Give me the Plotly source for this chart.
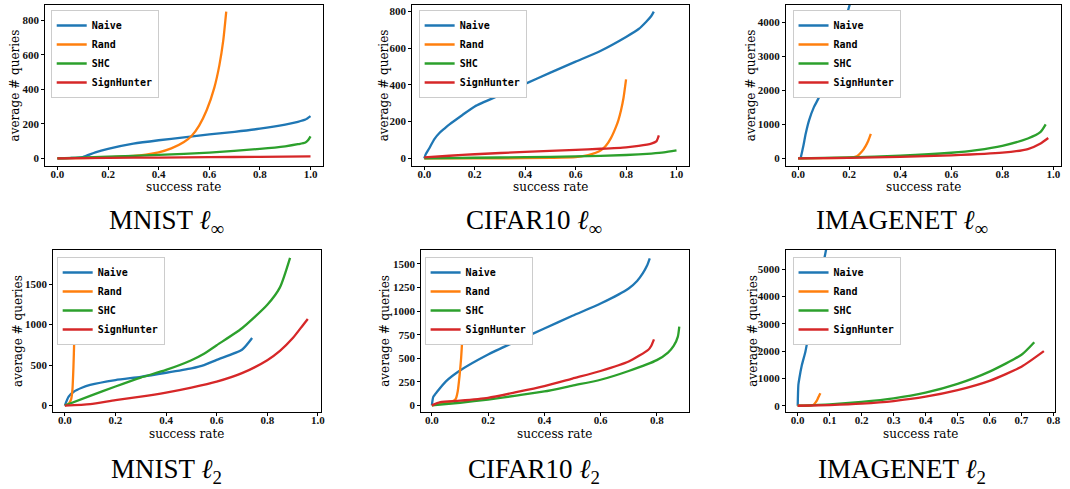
import plotly.graph_objects as go

# ---------------- data ----------------
METHODS = ["Naive", "Rand", "SHC", "SignHunter"]
COLORS = ["#1f77b4", "#ff7f0e", "#2ca02c", "#d62728"]
CAPTIONS = ["MNIST <i>ℓ</i><sub>∞</sub>", "CIFAR10 <i>ℓ</i><sub>∞</sub>", "IMAGENET <i>ℓ</i><sub>∞</sub>",
            "MNIST <i>ℓ</i><sub>2</sub>", "CIFAR10 <i>ℓ</i><sub>2</sub>", "IMAGENET <i>ℓ</i><sub>2</sub>"]
X_TITLE = "success rate"
Y_TITLE = "average # queries"

# MNIST l_inf
mnist_linf_naive_x = [0, 0.05, 0.1, 0.15, 0.2, 0.3, 0.4, 0.5, 0.6, 0.7, 0.8, 0.9, 0.95, 0.98, 1.0]
mnist_linf_naive_y = [0, 2, 8, 35, 55, 85, 105, 122, 139, 154, 172, 196, 212, 225, 245]
mnist_linf_rand_x = [0, 0.1, 0.2, 0.3, 0.35, 0.4, 0.45, 0.5, 0.53, 0.56, 0.59, 0.62, 0.64, 0.655, 0.667]
mnist_linf_rand_y = [0, 2, 6, 14, 22, 35, 58, 95, 130, 190, 280, 410, 540, 680, 850]
mnist_linf_shc_x = [0, 0.2, 0.4, 0.6, 0.8, 0.9, 0.95, 0.98, 0.99, 1.0]
mnist_linf_shc_y = [0, 10, 20, 34, 55, 70, 82, 92, 105, 128]
mnist_linf_sh_x = [0, 0.2, 0.4, 0.6, 0.8, 1.0]
mnist_linf_sh_y = [0, 3, 5, 7, 9, 12]

# CIFAR10 l_inf
cifar_linf_naive_x = [0, 0.005, 0.02, 0.04, 0.06, 0.08, 0.1, 0.15, 0.2, 0.3, 0.4, 0.5, 0.6, 0.7, 0.8, 0.85, 0.88, 0.9, 0.91]
cifar_linf_naive_y = [0, 20, 55, 105, 138, 162, 185, 235, 283, 345, 406, 467, 527, 587, 662, 705, 745, 776, 800]
cifar_linf_rand_x = [0, 0.3, 0.5, 0.6, 0.65, 0.68, 0.7, 0.72, 0.74, 0.76, 0.77, 0.78, 0.79, 0.8]
cifar_linf_rand_y = [0, 0, 2, 6, 18, 30, 43, 68, 110, 171, 210, 262, 330, 430]
cifar_linf_shc_x = [0, 0.2, 0.4, 0.6, 0.8, 0.9, 0.95, 1.0]
cifar_linf_shc_y = [0, 3, 6, 10, 18, 26, 32, 43]
cifar_linf_sh_x = [0, 0.1, 0.2, 0.4, 0.6, 0.7, 0.8, 0.85, 0.9, 0.92, 0.93]
cifar_linf_sh_y = [5, 14, 22, 35, 46, 52, 60, 68, 80, 92, 125]

# IMAGENET l_inf
imagenet_linf_naive_x = [0.01, 0.02, 0.03, 0.043, 0.062, 0.082, 0.1, 0.128, 0.16, 0.193, 0.205]
imagenet_linf_naive_y = [0, 340, 730, 1120, 1510, 1800, 2240, 2780, 3510, 4290, 4600]
imagenet_linf_rand_x = [0, 0.1, 0.2, 0.23, 0.25, 0.265, 0.275, 0.285]
imagenet_linf_rand_y = [0, 5, 20, 60, 200, 370, 520, 720]
imagenet_linf_shc_x = [0, 0.2, 0.4, 0.6, 0.7, 0.8, 0.9, 0.95, 0.97]
imagenet_linf_shc_y = [0, 30, 78, 166, 244, 370, 585, 780, 1000]
imagenet_linf_sh_x = [0, 0.2, 0.4, 0.6, 0.8, 0.9, 0.95, 0.98]
imagenet_linf_sh_y = [0, 15, 45, 88, 166, 275, 440, 600]

# MNIST l_2
mnist_l2_naive_x = [0, 0.015, 0.035, 0.067, 0.1, 0.2, 0.3, 0.4, 0.5, 0.55, 0.6, 0.7, 0.74]
mnist_l2_naive_y = [0, 110, 170, 220, 255, 315, 355, 405, 460, 500, 565, 690, 835]
mnist_l2_rand_x = [0, 0.015, 0.025, 0.03, 0.034, 0.037, 0.039]
mnist_l2_rand_y = [0, 20, 80, 200, 480, 800, 1160]
mnist_l2_shc_x = [0, 0.1, 0.2, 0.3, 0.4, 0.5, 0.55, 0.6, 0.7, 0.8, 0.85, 0.89]
mnist_l2_shc_y = [0, 120, 235, 345, 440, 560, 640, 745, 955, 1245, 1460, 1825]
mnist_l2_sh_x = [0, 0.1, 0.2, 0.3, 0.4, 0.5, 0.6, 0.7, 0.8, 0.85, 0.9, 0.94, 0.96]
mnist_l2_sh_y = [0, 18, 68, 110, 160, 222, 295, 400, 560, 675, 830, 990, 1070]

# CIFAR10 l_2
cifar_l2_naive_x = [0, 0.005, 0.02, 0.05, 0.1, 0.2, 0.3, 0.4, 0.5, 0.6, 0.7, 0.73, 0.75, 0.765, 0.775]
cifar_l2_naive_y = [0, 90, 150, 255, 370, 540, 680, 815, 950, 1080, 1240, 1320, 1400, 1480, 1560]
cifar_l2_rand_x = [0, 0.05, 0.075, 0.085, 0.092, 0.098, 0.104, 0.108, 0.113]
cifar_l2_rand_y = [0, 30, 45, 70, 150, 300, 500, 700, 1030]
cifar_l2_shc_x = [0, 0.1, 0.2, 0.3, 0.4, 0.5, 0.6, 0.7, 0.8, 0.84, 0.86, 0.875, 0.88]
cifar_l2_shc_y = [0, 28, 62, 104, 148, 210, 272, 365, 480, 560, 630, 730, 835]
cifar_l2_sh_x = [0, 0.03, 0.1, 0.2, 0.3, 0.4, 0.5, 0.6, 0.7, 0.77, 0.78, 0.79]
cifar_l2_sh_y = [0, 35, 50, 80, 140, 205, 285, 365, 465, 590, 630, 700]

# IMAGENET l_2
imagenet_l2_naive_x = [0, 0.002, 0.005, 0.013, 0.024, 0.034, 0.045, 0.055, 0.07, 0.084, 0.09]
imagenet_l2_naive_y = [0, 760, 1000, 1490, 1980, 2590, 3200, 3810, 4670, 5440, 5800]
imagenet_l2_rand_x = [0, 0.04, 0.05, 0.056, 0.062, 0.067, 0.071]
imagenet_l2_rand_y = [0, 5, 40, 120, 240, 370, 460]
imagenet_l2_shc_x = [0, 0.1, 0.2, 0.3, 0.4, 0.5, 0.6, 0.7, 0.74]
imagenet_l2_shc_y = [0, 50, 140, 270, 480, 800, 1250, 1870, 2330]
imagenet_l2_sh_x = [0, 0.1, 0.2, 0.3, 0.4, 0.5, 0.6, 0.7, 0.77]
imagenet_l2_sh_y = [0, 25, 75, 170, 330, 570, 910, 1430, 2000]

# tick values
yticks_mnist_linf = [0, 200, 400, 600, 800]
yticks_cifar_linf = [0, 200, 400, 600, 800]
yticks_imagenet_linf = [0, 1000, 2000, 3000, 4000]
yticks_mnist_l2 = [0, 500, 1000, 1500]
yticks_cifar_l2 = [0, 250, 500, 750, 1000, 1250, 1500]
yticks_imagenet_l2 = [0, 1000, 2000, 3000, 4000, 5000]
xticks_full = [0.0, 0.2, 0.4, 0.6, 0.8, 1.0]
xticks_cifar_l2 = [0.0, 0.2, 0.4, 0.6, 0.8]
xticks_imagenet_l2 = [0.0, 0.1, 0.2, 0.3, 0.4, 0.5, 0.6, 0.7, 0.8]

panels = [
    [(mnist_linf_naive_x, mnist_linf_naive_y), (mnist_linf_rand_x, mnist_linf_rand_y),
     (mnist_linf_shc_x, mnist_linf_shc_y), (mnist_linf_sh_x, mnist_linf_sh_y)],
    [(cifar_linf_naive_x, cifar_linf_naive_y), (cifar_linf_rand_x, cifar_linf_rand_y),
     (cifar_linf_shc_x, cifar_linf_shc_y), (cifar_linf_sh_x, cifar_linf_sh_y)],
    [(imagenet_linf_naive_x, imagenet_linf_naive_y), (imagenet_linf_rand_x, imagenet_linf_rand_y),
     (imagenet_linf_shc_x, imagenet_linf_shc_y), (imagenet_linf_sh_x, imagenet_linf_sh_y)],
    [(mnist_l2_naive_x, mnist_l2_naive_y), (mnist_l2_rand_x, mnist_l2_rand_y),
     (mnist_l2_shc_x, mnist_l2_shc_y), (mnist_l2_sh_x, mnist_l2_sh_y)],
    [(cifar_l2_naive_x, cifar_l2_naive_y), (cifar_l2_rand_x, cifar_l2_rand_y),
     (cifar_l2_shc_x, cifar_l2_shc_y), (cifar_l2_sh_x, cifar_l2_sh_y)],
    [(imagenet_l2_naive_x, imagenet_l2_naive_y), (imagenet_l2_rand_x, imagenet_l2_rand_y),
     (imagenet_l2_shc_x, imagenet_l2_shc_y), (imagenet_l2_sh_x, imagenet_l2_sh_y)],
]
yticks = [yticks_mnist_linf, yticks_cifar_linf, yticks_imagenet_linf,
          yticks_mnist_l2, yticks_cifar_l2, yticks_imagenet_l2]
xticks = [xticks_full, xticks_full, xticks_full, xticks_full, xticks_cifar_l2, xticks_imagenet_l2]

# ---------------- layout geometry ----------------
W, H = 1070, 489
# plot-area boxes in pixels (left, right, top, bottom)
boxes = [(45, 325, 5, 166), (414, 693, 5, 166), (790, 1067, 5, 166),
         (53, 323, 250, 412), (423, 693, 250, 412), (790, 1061, 250, 412)]
xranges = [[-0.05, 1.05], [-0.05, 1.05], [-0.049, 1.03],
           [-0.048, 1.013], [-0.04, 0.915], [-0.038, 0.805]]
yranges = [[-44, 888], [-42, 836], [-225, 4520],
           [-80, 1922], [-70, 1648], [-230, 5710]]
legend_pos = [(51, 10), (421, 10), (797, 10), (57, 257), (427, 257), (797, 257)]
caption_pos = [(167, 222), (537, 222), (907, 222), (167, 471), (537, 471), (907, 471)]
ytitle_x = [15, 386, 755, 18, 387, 757]
xtitle_y = [187, 187, 187, 434, 434, 434]

fig = go.Figure()
layout = dict(width=W, height=H, autosize=False,
              margin=dict(l=0, r=0, t=0, b=0),
              paper_bgcolor="white", plot_bgcolor="white",
              annotations=[])
title_font = dict(family="DejaVu Serif", size=12, color="black")

for i, panel in enumerate(panels):
    k = "" if i == 0 else str(i + 1)
    leg = "legend" + k
    for m, (xs, ys) in enumerate(panel):
        fig.add_trace(go.Scatter(
            x=xs, y=ys, mode="lines", name=METHODS[m],
            line=dict(color=COLORS[m], width=2.3, shape="spline", smoothing=0.6),
            xaxis="x" + k, yaxis="y" + k, legend=leg, showlegend=True))
    l, r, t, b = boxes[i]
    common = dict(showline=True, linecolor="black", linewidth=1, mirror=True,
                  showgrid=False, zeroline=False, ticks="outside", ticklen=2.5,
                  tickcolor="black", tickwidth=1,
                  tickfont=dict(family="Liberation Serif", size=11, color="#111111", weight="bold"))
    layout["xaxis" + k] = dict(
        domain=[l / W, r / W], anchor="y" + k, range=xranges[i],
        tickvals=xticks[i], tickformat=".1f", ticklabelstandoff=-5,
        **common)
    layout["yaxis" + k] = dict(
        domain=[1 - b / H, 1 - t / H], anchor="x" + k, range=yranges[i],
        tickvals=yticks[i],
        **common)
    # axis titles
    layout["annotations"].append(dict(
        text=X_TITLE, xref="paper", yref="paper", x=(l + r) / 2 / W, y=1 - xtitle_y[i] / H,
        xanchor="center", yanchor="middle", showarrow=False, font=title_font))
    layout["annotations"].append(dict(
        text=Y_TITLE, xref="paper", yref="paper", x=ytitle_x[i] / W, y=1 - (t + b) / 2 / H,
        xanchor="center", yanchor="middle", showarrow=False, textangle=-90, font=title_font))
    lx, ly = legend_pos[i]
    layout[leg] = dict(x=lx / W, y=1 - ly / H, xanchor="left", yanchor="top",
                       bgcolor="white", bordercolor="#cccccc", borderwidth=1,
                       font=dict(family="DejaVu Sans Mono", size=10, color="black", weight="bold"),
                       itemwidth=30, tracegroupgap=0)
    cx, cy = caption_pos[i]
    layout["annotations"].append(dict(
        text=CAPTIONS[i], xref="paper", yref="paper", x=cx / W, y=1 - cy / H,
        xanchor="center", yanchor="middle", showarrow=False,
        font=dict(family="Liberation Serif, DejaVu Serif", size=27, color="black")))

fig.update_layout(**layout)
fig.write_html("out.html")
